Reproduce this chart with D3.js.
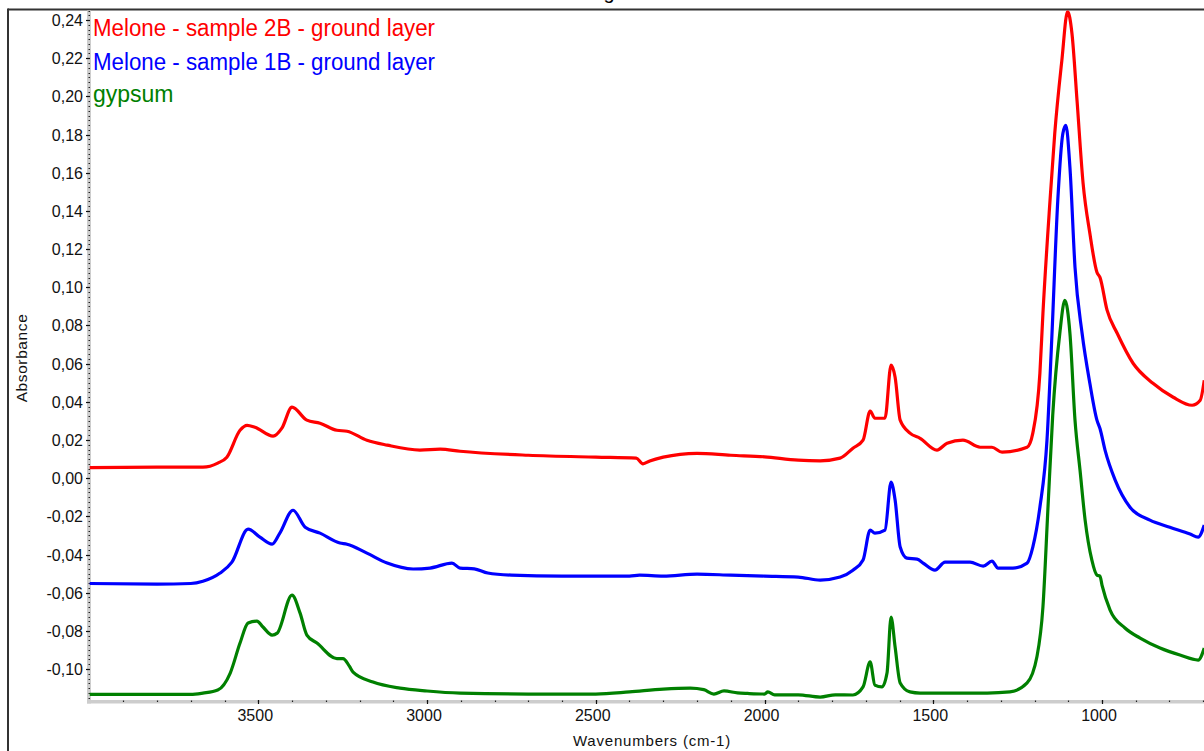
<!DOCTYPE html>
<html>
<head>
<meta charset="utf-8">
<script src="https://cdn.jsdelivr.net/npm/d3@7"></script>
<style>
  html, body { margin: 0; padding: 0; background: #fff; }
  svg { display: block; font-family: "Liberation Sans", Arial, sans-serif; }
</style>
</head>
<body>
<svg id="chart" width="1204" height="751"></svg>
<script>
// ---- data (wavenumbers in cm-1, absorbance) ----
const seriesNames = ["Melone - sample 2B - ground layer", "Melone - sample 1B - ground layer", "gypsum"];
const seriesColors = ["#ff0000", "#0000ff", "#008000"];

const redWn = [4000,3800,3664,3620,3593,3554,3533,3510,3456,3430,3400,3356,3317,3267,3237,3178,3118,3021,2961,2902,2700,2500,2380,2360,2340,2300,2200,2100,2000,1900,1835,1776,1738,1708,1687,1673,1643,1625,1613,1598,1569,1539,1489,1459,1412,1361,1326,1296,1222,1205,1184,1175,1154,1140,1119,1102,1089,1074,1056,1036,1015,1006,985,955,908,849,789,733,709,697];
const redAbs = [0.0055,0.0058,0.0058,0.0079,0.011,0.0251,0.0277,0.0267,0.022,0.0262,0.0372,0.0304,0.0288,0.0251,0.0246,0.0199,0.0173,0.0147,0.0152,0.0141,0.012,0.011,0.0105,0.0075,0.009,0.011,0.013,0.012,0.0112,0.0094,0.0091,0.0105,0.0157,0.0199,0.0351,0.0314,0.0314,0.0592,0.0529,0.0304,0.0236,0.0209,0.0147,0.0183,0.0199,0.0162,0.0162,0.0136,0.0162,0.0236,0.055,0.0864,0.1455,0.1806,0.2188,0.2445,0.233,0.1979,0.1545,0.1283,0.1079,0.1052,0.088,0.0759,0.0602,0.0497,0.0424,0.0382,0.0408,0.0513];

const blueWn = [4000,3800,3700,3664,3613,3578,3530,3495,3459,3436,3397,3361,3317,3258,3237,3178,3118,3041,2991,2926,2902,2860,2820,2750,2600,2400,2370,2300,2200,2100,2000,1900,1835,1776,1738,1708,1687,1673,1643,1625,1613,1598,1578,1548,1530,1495,1465,1391,1352,1326,1308,1264,1222,1205,1184,1163,1149,1131,1116,1107,1095,1080,1059,1036,1015,1006,991,961,917,858,799,739,715,697];
const blueAbs = [-0.0552,-0.0555,-0.0552,-0.054,-0.0497,-0.044,-0.0267,-0.0309,-0.0346,-0.0288,-0.0168,-0.0257,-0.0288,-0.034,-0.0346,-0.0393,-0.0445,-0.0476,-0.0471,-0.0445,-0.0471,-0.0475,-0.0497,-0.0508,-0.0513,-0.0513,-0.0508,-0.0513,-0.0503,-0.0508,-0.0513,-0.0518,-0.0534,-0.0518,-0.0482,-0.0429,-0.0272,-0.0288,-0.0272,-0.0021,-0.0115,-0.0361,-0.0419,-0.0424,-0.0445,-0.0482,-0.044,-0.044,-0.0461,-0.0435,-0.0471,-0.0471,-0.0445,-0.0361,-0.0152,0.0199,0.0723,0.1455,0.1806,0.1848,0.1628,0.1105,0.0759,0.0497,0.0304,0.026,0.0147,-0.001,-0.0152,-0.022,-0.0257,-0.0293,-0.0309,-0.0246];

const greenWn = [4000,3700,3664,3620,3583,3554,3530,3504,3486,3459,3444,3400,3376,3356,3326,3267,3249,3230,3219,3160,3080,3000,2902,2700,2500,2400,2300,2220,2180,2150,2120,2080,2050,2000,1990,1970,1900,1835,1790,1738,1708,1687,1673,1652,1637,1625,1613,1598,1569,1539,1340,1273,1222,1193,1175,1160,1146,1125,1110,1095,1080,1065,1050,1030,1015,1006,1000,976,932,887,828,769,715,697];
const greenAbs = [-0.1133,-0.1133,-0.1126,-0.111,-0.1021,-0.0864,-0.0759,-0.0749,-0.078,-0.0822,-0.0812,-0.0613,-0.0707,-0.0822,-0.0864,-0.0945,-0.0945,-0.0985,-0.1016,-0.1068,-0.11,-0.1115,-0.1126,-0.1131,-0.1131,-0.112,-0.1105,-0.11,-0.1108,-0.1131,-0.1115,-0.1125,-0.1128,-0.1131,-0.112,-0.1135,-0.1135,-0.1147,-0.1135,-0.1136,-0.1094,-0.0963,-0.1084,-0.1094,-0.1021,-0.0728,-0.0885,-0.1073,-0.112,-0.1126,-0.1126,-0.112,-0.1073,-0.0937,-0.0675,-0.0152,0.033,0.0759,0.0932,0.0759,0.0304,0.004,-0.022,-0.043,-0.0508,-0.0513,-0.056,-0.0691,-0.0785,-0.0838,-0.089,-0.0927,-0.0953,-0.089];

const xTickValues = [3500, 3000, 2500, 2000, 1500, 1000];
const yTickValues = [-0.10, -0.08, -0.06, -0.04, -0.02, 0.00, 0.02, 0.04, 0.06, 0.08, 0.10, 0.12, 0.14, 0.16, 0.18, 0.20, 0.22, 0.24];
const xTitle = "Wavenumbers (cm-1)";
const yTitle = "Absorbance";

// ---- layout ----
const svg = d3.select("#chart");
const W = 1204, H = 751;
const plotLeft = 89.5, plotTop = 9.5, plotBottom = 700;
const x = d3.scaleLinear().domain([4000, 400]).range([plotLeft, plotLeft + 3600 * 0.3375]);
const y = d3.scaleLinear().domain([-0.11623, 0.24555]).range([plotBottom, plotTop]);
const fmt = v => d3.format(".2f")(v).replace(".", ",").replace("−", "-");

// title (only descender visible at top edge)
svg.append("text").attr("x", 609).attr("y", -1).attr("text-anchor", "middle")
  .attr("font-size", 20).attr("fill", "#000").text("g");

// frame lines
svg.append("line").attr("x1", 8).attr("x2", W).attr("y1", 9.5).attr("y2", 9.5)
  .attr("stroke", "#333").attr("stroke-width", 2);
svg.append("line").attr("x1", 8).attr("x2", 8).attr("y1", 8.5).attr("y2", H)
  .attr("stroke", "#333").attr("stroke-width", 2);

// clip
svg.append("clipPath").attr("id", "clip").append("rect")
  .attr("x", plotLeft).attr("y", plotTop + 1).attr("width", W - plotLeft).attr("height", plotBottom - plotTop - 1);

// axis strips
svg.append("rect").attr("x", 87).attr("y", 10.5).attr("width", 4).attr("height", 693).attr("fill", "#cdcdcd");
svg.append("rect").attr("x", 87).attr("y", 700).attr("width", W - 87).attr("height", 3.5).attr("fill", "#cdcdcd");

// y ticks
const yMinor = d3.range(-0.115, 0.2451, 0.0025);
svg.append("g").selectAll("line").data(yMinor).join("line")
  .attr("x1", 88.5).attr("x2", 90).attr("y1", d => Math.round(y(d)) + 0.5).attr("y2", d => Math.round(y(d)) + 0.5)
  .attr("stroke", "#222").attr("stroke-width", 1.2);
svg.append("g").selectAll("line").data(yTickValues).join("line")
  .attr("x1", 86).attr("x2", 90).attr("y1", d => Math.round(y(d)) + 0.5).attr("y2", d => Math.round(y(d)) + 0.5)
  .attr("stroke", "#111").attr("stroke-width", 1.2);
svg.append("g").selectAll("text").data(yTickValues).join("text")
  .attr("x", 83).attr("y", d => y(d) + 6).attr("text-anchor", "end")
  .attr("font-size", 16).attr("fill", "#111").text(d => fmt(d));

// x ticks
const xMinor = d3.range(3900, 399, -100);
svg.append("g").selectAll("line").data(xMinor).join("line")
  .attr("x1", d => Math.round(x(d)) + 0.5).attr("x2", d => Math.round(x(d)) + 0.5).attr("y1", 700.5).attr("y2", 702)
  .attr("stroke", "#222").attr("stroke-width", 1.2);
svg.append("g").selectAll("line").data(xTickValues).join("line")
  .attr("x1", d => Math.round(x(d)) + 0.5).attr("x2", d => Math.round(x(d)) + 0.5).attr("y1", 700).attr("y2", 704)
  .attr("stroke", "#111").attr("stroke-width", 1.2);
svg.append("g").selectAll("text").data(xTickValues).join("text")
  .attr("x", d => x(d) - 3).attr("y", 721).attr("text-anchor", "middle")
  .attr("font-size", 16).attr("fill", "#111").text(d => d);

// axis titles
svg.append("text").attr("x", 652).attr("y", 746).attr("text-anchor", "middle")
  .attr("font-size", 15).attr("letter-spacing", 0.8).attr("fill", "#111").text(xTitle);
svg.append("text").attr("transform", "translate(27,358) rotate(-90)").attr("text-anchor", "middle")
  .attr("font-size", 15.5).attr("letter-spacing", 0.6).attr("fill", "#111").text(yTitle);

// spectra
const series = [
  { wn: redWn, abs: redAbs },
  { wn: blueWn, abs: blueAbs },
  { wn: greenWn, abs: greenAbs }
];
const line = d3.line().x(d => x(d[0])).y(d => y(d[1])).curve(d3.curveMonotoneX);
const gLines = svg.append("g").attr("clip-path", "url(#clip)");
series.forEach((s, i) => {
  const pts = s.wn.map((w, k) => [w, s.abs[k]]);
  gLines.append("path").attr("d", line(pts)).attr("fill", "none")
    .attr("stroke", seriesColors[i]).attr("stroke-width", 3.2).attr("stroke-linejoin", "round");
});

// legend
const legendBaselines = [36, 70, 102];
const legendLengths = [342, 342, null];
seriesNames.forEach((n, i) => {
  const t = svg.append("text").attr("x", 93).attr("y", legendBaselines[i])
    .attr("font-size", 23).attr("fill", seriesColors[i]).text(n);
  if (legendLengths[i]) t.attr("textLength", legendLengths[i]).attr("lengthAdjust", "spacingAndGlyphs");
});
</script>
</body>
</html>
